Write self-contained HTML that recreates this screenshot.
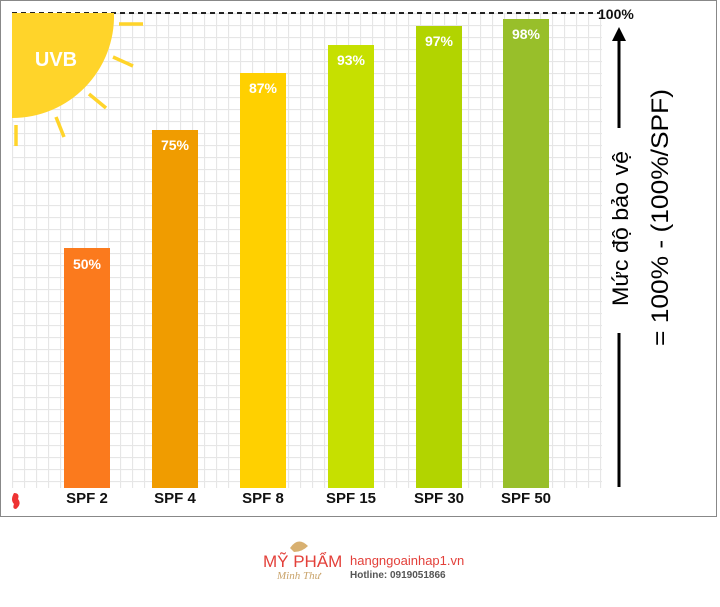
<!DOCTYPE html>
<html><head><meta charset="utf-8"><style>
body{margin:0;width:720px;height:607px;background:#fff;overflow:hidden;font-family:"Liberation Sans",sans-serif}
</style></head><body>
<svg width="720" height="607" xmlns="http://www.w3.org/2000/svg" style="position:absolute;left:0;top:0">
<defs>
<pattern id="g" x="12" y="13" width="12" height="12" patternUnits="userSpaceOnUse">
<path d="M0 0.5H12M0.5 0V12" stroke="#e6e6e6" stroke-width="1.2" fill="none"/>
</pattern>
</defs>
<rect x="0.5" y="0.5" width="716" height="516" fill="#fff" stroke="#888"/>
<rect x="12" y="13" width="590" height="475" fill="url(#g)"/>
<line x1="12" y1="13" x2="600" y2="13" stroke="#222" stroke-width="2" stroke-dasharray="5,4"/>
<path d="M12 13 H114 A102 102 0 0 1 12 118 Z" fill="#ffd42a"/>
<text x="56" y="66" fill="#fff" font-weight="bold" font-size="20" text-anchor="middle">UVB</text>
<g stroke="#ffd42a" stroke-width="3.5">
<line x1="119" y1="24" x2="143" y2="24"/>
<line x1="113" y1="57" x2="133" y2="66"/>
<line x1="89" y1="94" x2="106" y2="108"/>
<line x1="56" y1="117" x2="64" y2="137"/>
<line x1="16" y1="125" x2="16" y2="146"/>
</g>
<g font-weight="bold" font-size="14" fill="#fff" text-anchor="middle">
<rect x="64" y="248" width="46" height="240" fill="#fb7a1d"/><text x="87" y="269">50%</text>
<rect x="152" y="130" width="46" height="358" fill="#f09c00"/><text x="175" y="150">75%</text>
<rect x="240" y="73" width="46" height="415" fill="#ffd000"/><text x="263" y="93">87%</text>
<rect x="328" y="45" width="46" height="443" fill="#c6e000"/><text x="351" y="65">93%</text>
<rect x="416" y="26" width="46" height="462" fill="#b2d400"/><text x="439" y="46">97%</text>
<rect x="503" y="19" width="46" height="469" fill="#98bf2a"/><text x="526" y="39">98%</text>
</g>
<g font-size="15" font-weight="bold" fill="#111" text-anchor="middle">
<text x="87" y="503">SPF 2</text><text x="175" y="503">SPF 4</text><text x="263" y="503">SPF 8</text>
<text x="351" y="503">SPF 15</text><text x="439" y="503">SPF 30</text><text x="526" y="503">SPF 50</text>
</g>
<text x="598" y="19" font-size="14" font-weight="bold" fill="#111">100%</text>
<line x1="619" y1="40" x2="619" y2="128" stroke="#000" stroke-width="3"/>
<polygon points="619,27 612,41 626,41" fill="#000"/>
<line x1="619" y1="333" x2="619" y2="487" stroke="#000" stroke-width="3"/>
<text transform="translate(628,306) rotate(-90)" font-size="22" fill="#000" textLength="155" lengthAdjust="spacingAndGlyphs">Mức độ bảo vệ</text>
<text transform="translate(668,346) rotate(-90)" font-size="24" fill="#000" textLength="257" lengthAdjust="spacingAndGlyphs">= 100% - (100%/SPF)</text>
<path d="M14 493 q6 0 4 6 q4 5 -2 10 q-4 0 -2 -5 q-4 -4 0 -11z" fill="#e33"/>
<text x="263" y="567" font-size="17" fill="#e3403a">MỸ PHẨM</text>
<text x="277" y="579" font-size="11" font-style="italic" fill="#c9a36a" font-family="Liberation Serif,serif">Minh Thư</text>
<path d="M290 548 q8 -12 18 -2 q-6 6 -14 6z" fill="#d8b070"/>
<text x="350" y="565" font-size="13" fill="#e3403a">hangngoainhap1.vn</text>
<text x="350" y="578" font-size="10" font-weight="bold" fill="#555">Hotline: 0919051866</text>
</svg>
</body></html>
